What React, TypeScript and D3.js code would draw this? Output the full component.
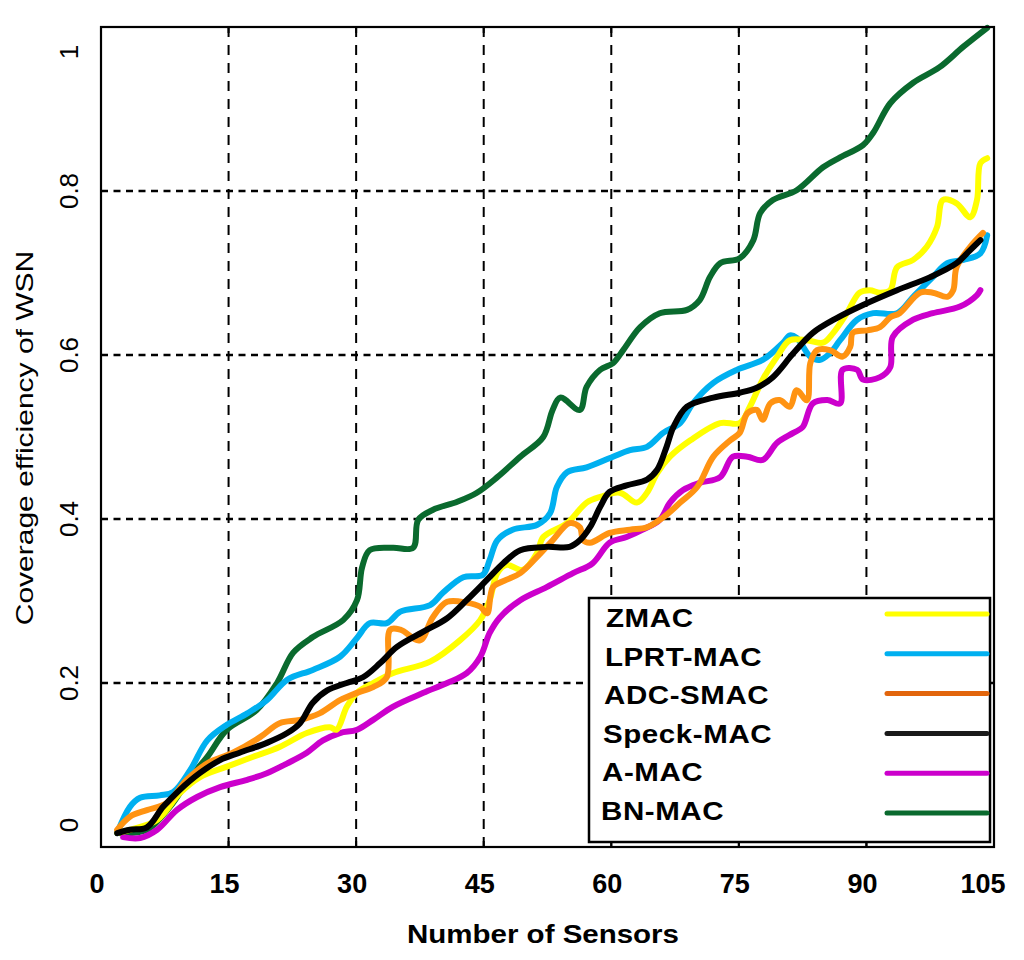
import React, { useEffect, useRef } from 'react';
import * as d3 from 'd3';

type Pt = [number, number];

const seriesNames = ['ZMAC', 'LPRT-MAC', 'ADC-SMAC', 'Speck-MAC', 'A-MAC', 'BN-MAC'];
const lineColors = ['#FFFF00', '#00B0F0', '#FF9312', '#000000', '#CC00CC', '#0A6A2E'];
const legendColors = ['#FFFF00', '#00B0F0', '#E2650C', '#1A1A1A', '#CC00CC', '#0A6A2E'];
const xTicks = [0, 15, 30, 45, 60, 75, 90, 105];
const yTicks = [0, 0.2, 0.4, 0.6, 0.8, 1];

const zmac: Pt[] = [
  [1.9, 0.017], [3.4, 0.021], [6.6, 0.033], [9.3, 0.066], [11.6, 0.085], [14.8, 0.098],
  [17.9, 0.11], [21.0, 0.122], [24.2, 0.139], [26.9, 0.146], [27.7, 0.143], [28.9, 0.171],
  [30.1, 0.188], [32.0, 0.2], [34.3, 0.212], [38.7, 0.226], [42.2, 0.252], [44.6, 0.277],
  [45.7, 0.301], [46.6, 0.334], [47.7, 0.344], [49.6, 0.338], [51.3, 0.359], [52.0, 0.378],
  [54.8, 0.395], [57.1, 0.42], [58.7, 0.427], [61.0, 0.432], [63.0, 0.42], [64.2, 0.432],
  [65.4, 0.456], [66.9, 0.476], [69.3, 0.496], [72.8, 0.517], [75.1, 0.517], [76.3, 0.537],
  [77.8, 0.57], [79.5, 0.598], [81.0, 0.618], [83.0, 0.618], [84.9, 0.615], [86.1, 0.627],
  [87.7, 0.651], [89.2, 0.676], [90.4, 0.679], [91.6, 0.676], [92.8, 0.679], [93.6, 0.707],
  [95.5, 0.716], [97.1, 0.732], [98.3, 0.756], [99.0, 0.789], [100.6, 0.785], [102.2, 0.768],
  [103.0, 0.789], [103.4, 0.834], [104.2, 0.84],
];

const lprt: Pt[] = [
  [1.9, 0.017], [3.4, 0.049], [4.6, 0.06], [6.9, 0.063], [8.5, 0.067], [10.5, 0.094],
  [12.5, 0.13], [14.8, 0.149], [17.2, 0.163], [19.5, 0.179], [21.9, 0.204], [24.9, 0.216],
  [28.1, 0.232], [30.1, 0.255], [31.6, 0.273], [33.6, 0.273], [35.2, 0.287], [38.7, 0.295],
  [40.2, 0.31], [42.6, 0.329], [44.9, 0.332], [45.7, 0.35], [46.6, 0.374], [48.4, 0.387],
  [51.3, 0.393], [52.8, 0.407], [53.6, 0.439], [54.8, 0.457], [57.1, 0.463], [60.2, 0.476],
  [62.2, 0.484], [64.2, 0.488], [66.1, 0.505], [68.1, 0.517], [69.6, 0.541], [72.0, 0.566],
  [74.8, 0.582], [77.8, 0.594], [80.2, 0.615], [81.0, 0.624], [81.8, 0.621], [83.4, 0.598],
  [84.5, 0.594], [85.7, 0.602], [86.9, 0.618], [88.9, 0.643], [90.8, 0.651], [93.6, 0.651],
  [95.5, 0.671], [97.8, 0.695], [99.5, 0.712], [101.4, 0.716], [103.4, 0.724], [104.2, 0.746],
];

const adc: Pt[] = [
  [1.9, 0.021], [3.4, 0.037], [5.4, 0.045], [7.8, 0.054], [10.1, 0.082], [12.5, 0.102],
  [15.5, 0.115], [18.7, 0.134], [21.0, 0.151], [23.4, 0.155], [25.7, 0.163], [28.1, 0.179],
  [30.1, 0.188], [32.0, 0.195], [33.6, 0.207], [34.0, 0.265], [35.2, 0.265], [37.5, 0.252],
  [39.0, 0.28], [40.7, 0.299], [43.0, 0.298], [44.6, 0.293], [45.4, 0.285], [46.1, 0.317],
  [47.7, 0.326], [49.3, 0.334], [51.3, 0.354], [53.1, 0.374], [55.1, 0.395], [56.3, 0.39],
  [56.7, 0.374], [57.5, 0.371], [59.8, 0.383], [62.2, 0.387], [64.2, 0.39], [66.1, 0.402],
  [68.1, 0.42], [70.1, 0.439], [72.0, 0.476], [74.0, 0.496], [75.1, 0.505], [76.0, 0.529],
  [77.1, 0.533], [77.8, 0.521], [78.7, 0.541], [79.8, 0.545], [81.0, 0.537], [81.8, 0.557],
  [83.0, 0.545], [83.4, 0.59], [84.2, 0.606], [85.7, 0.606], [87.2, 0.598], [88.1, 0.61],
  [88.4, 0.627], [90.1, 0.63], [91.6, 0.634], [92.8, 0.646], [93.9, 0.651], [96.3, 0.676],
  [97.8, 0.676], [99.5, 0.671], [100.2, 0.679], [100.6, 0.707], [102.2, 0.732], [103.7, 0.749],
];

const speck: Pt[] = [
  [1.9, 0.017], [3.4, 0.021], [5.4, 0.024], [7.3, 0.049], [9.3, 0.07], [11.6, 0.09],
  [14.0, 0.106], [16.3, 0.115], [19.5, 0.127], [21.9, 0.139], [23.4, 0.151], [24.9, 0.176],
  [26.6, 0.191], [28.9, 0.2], [30.8, 0.207], [32.8, 0.224], [34.8, 0.244], [37.8, 0.262],
  [40.7, 0.279], [43.0, 0.301], [45.4, 0.326], [47.3, 0.346], [49.3, 0.362], [52.4, 0.366],
  [55.1, 0.366], [56.3, 0.374], [57.5, 0.39], [58.7, 0.415], [59.8, 0.433], [61.8, 0.441],
  [64.2, 0.448], [65.4, 0.46], [66.5, 0.488], [67.3, 0.512], [68.9, 0.537], [72.0, 0.548],
  [75.1, 0.554], [77.1, 0.56], [79.0, 0.573], [81.4, 0.602], [83.7, 0.627], [86.5, 0.645],
  [89.6, 0.661], [93.6, 0.679], [97.5, 0.695], [100.6, 0.712], [102.2, 0.728], [103.4, 0.74],
];

const amac: Pt[] = [
  [2.6, 0.012], [4.6, 0.011], [6.6, 0.021], [8.9, 0.045], [11.3, 0.061], [14.0, 0.073],
  [17.2, 0.082], [19.5, 0.09], [21.9, 0.102], [24.2, 0.115], [26.1, 0.13], [28.1, 0.139],
  [30.1, 0.143], [32.0, 0.155], [34.3, 0.171], [37.9, 0.188], [40.7, 0.2], [43.0, 0.212],
  [44.6, 0.232], [45.7, 0.261], [46.9, 0.28], [49.3, 0.301], [52.4, 0.317], [55.5, 0.334],
  [57.8, 0.346], [59.8, 0.371], [61.8, 0.378], [63.7, 0.387], [65.7, 0.399], [66.9, 0.42],
  [68.4, 0.435], [70.4, 0.444], [72.8, 0.451], [74.3, 0.476], [76.0, 0.476], [77.8, 0.472],
  [79.5, 0.493], [81.4, 0.505], [82.5, 0.512], [83.7, 0.541], [85.4, 0.545], [86.9, 0.541],
  [87.2, 0.582], [88.9, 0.582], [89.6, 0.57], [91.6, 0.573], [92.8, 0.585], [93.1, 0.622],
  [95.5, 0.643], [97.8, 0.651], [101.0, 0.659], [103.0, 0.673], [103.4, 0.679],
];

const bnmac: Pt[] = [
  [2.0, 0.017], [5.4, 0.021], [8.1, 0.049], [10.5, 0.085], [12.5, 0.11], [14.8, 0.143],
  [18.3, 0.167], [20.7, 0.2], [22.6, 0.237], [24.9, 0.256], [28.5, 0.277], [30.1, 0.301],
  [30.7, 0.341], [31.6, 0.362], [34.3, 0.365], [36.7, 0.365], [37.3, 0.399], [39.0, 0.411],
  [41.9, 0.421], [44.2, 0.432], [46.6, 0.451], [49.3, 0.476], [52.0, 0.5], [53.1, 0.533],
  [54.0, 0.548], [56.3, 0.533], [57.1, 0.561], [58.7, 0.582], [60.2, 0.59], [61.4, 0.606],
  [63.4, 0.634], [65.7, 0.651], [68.9, 0.655], [70.4, 0.667], [71.6, 0.695], [72.8, 0.712],
  [75.1, 0.718], [76.7, 0.74], [77.5, 0.773], [79.0, 0.789], [81.8, 0.801], [84.9, 0.829],
  [86.9, 0.841], [89.6, 0.856], [90.8, 0.871], [92.8, 0.907], [95.5, 0.932], [98.6, 0.951],
  [101.4, 0.976], [104.2, 0.999],
];

const seriesData: Pt[][] = [zmac, lprt, adc, speck, amac, bnmac];
const drawOrder = [5, 4, 1, 0, 2, 3];

const FONT = '"Liberation Sans", Arial, Helvetica, sans-serif';

const App: React.FC = () => {
  const svgRef = useRef<SVGSVGElement | null>(null);

  useEffect(() => {
    const W = 1024;
    const H = 960;
    const margin = { top: 27, right: 30, bottom: 113, left: 101 };

    const svg = d3.select(svgRef.current);
    svg.selectAll('*').remove();
    svg.append('rect').attr('width', W).attr('height', H).attr('fill', 'white');

    const x = d3.scaleLinear().domain([0, 105]).range([margin.left, W - margin.right]);
    const y = d3.scaleLinear().domain([0, 1]).range([H - margin.bottom, margin.top]);

    // dashed grid
    svg.append('g')
      .selectAll('line')
      .data(xTicks.slice(1, -1))
      .enter()
      .append('line')
      .attr('x1', d => x(d)).attr('x2', d => x(d))
      .attr('y1', y(1)).attr('y2', y(0))
      .attr('stroke', '#000')
      .attr('stroke-width', 2)
      .attr('stroke-dasharray', '10,8');

    svg.append('g')
      .selectAll('line')
      .data(yTicks.slice(1, -1))
      .enter()
      .append('line')
      .attr('x1', x(0)).attr('x2', x(105))
      .attr('y1', d => y(d)).attr('y2', d => y(d))
      .attr('stroke', '#000')
      .attr('stroke-width', 2.4)
      .attr('stroke-dasharray', '7,5.5');

    // small inner ticks on the frame
    const tk = svg.append('g').attr('stroke', '#000').attr('stroke-width', 2);
    xTicks.slice(1, -1).forEach(v => {
      tk.append('line').attr('x1', x(v)).attr('x2', x(v)).attr('y1', y(1)).attr('y2', y(1) + 6);
      tk.append('line').attr('x1', x(v)).attr('x2', x(v)).attr('y1', y(0)).attr('y2', y(0) - 6);
    });
    yTicks.slice(1, -1).forEach(v => {
      tk.append('line').attr('x1', x(0)).attr('x2', x(0) + 6).attr('y1', y(v)).attr('y2', y(v));
      tk.append('line').attr('x1', x(105)).attr('x2', x(105) - 6).attr('y1', y(v)).attr('y2', y(v));
    });

    // series
    const line = d3.line<Pt>()
      .x(d => x(d[0]))
      .y(d => y(d[1]))
      .curve(d3.curveCatmullRom.alpha(0.5));

    drawOrder.forEach(i => {
      svg.append('path')
        .datum(seriesData[i])
        .attr('d', line)
        .attr('fill', 'none')
        .attr('stroke', lineColors[i])
        .attr('stroke-width', 6)
        .attr('stroke-linejoin', 'round')
        .attr('stroke-linecap', 'round');
    });

    // frame
    svg.append('rect')
      .attr('x', x(0)).attr('y', y(1))
      .attr('width', x(105) - x(0)).attr('height', y(0) - y(1))
      .attr('fill', 'none')
      .attr('stroke', '#000')
      .attr('stroke-width', 2.2);

    // x tick labels
    svg.append('g')
      .selectAll('text')
      .data(xTicks)
      .enter()
      .append('text')
      .attr('x', d => Math.min(x(d) - 4, 983))
      .attr('y', 893)
      .attr('text-anchor', 'middle')
      .style('font-family', FONT)
      .style('font-weight', 'bold')
      .style('font-size', '27px')
      .text(d => String(d));

    // y tick labels (rotated)
    svg.append('g')
      .selectAll('text')
      .data(yTicks)
      .enter()
      .append('text')
      .attr('transform', d => `translate(78,${Math.max(52, Math.min(825, y(d)))}) rotate(-90)`)
      .attr('text-anchor', 'middle')
      .style('font-family', FONT)
      .style('font-size', '26px')
      .text(d => String(d));

    // axis titles
    svg.append('text')
      .attr('transform', `translate(543,943) scale(1.18,1)`)
      .attr('text-anchor', 'middle')
      .style('font-family', FONT)
      .style('font-weight', 'bold')
      .style('font-size', '25px')
      .text('Number of Sensors');

    svg.append('text')
      .attr('transform', `translate(33,438) rotate(-90) scale(1.25,1)`)
      .attr('text-anchor', 'middle')
      .style('font-family', FONT)
      .style('font-size', '24px')
      .text('Coverage efficiency of WSN');

    // legend
    const lg = svg.append('g');
    lg.append('rect')
      .attr('x', 589).attr('y', 598)
      .attr('width', 401).attr('height', 244)
      .attr('fill', 'white')
      .attr('stroke', '#000')
      .attr('stroke-width', 2.5);

    seriesNames.forEach((name, i) => {
      lg.append('text')
        .attr('transform', `translate(${606 - i},${627 + i * 38.6}) scale(1.18,1)`)
        .style('font-family', FONT)
        .style('font-weight', 'bold')
        .style('font-size', '25px')
        .style('letter-spacing', '0.5px')
        .text(name);
      lg.append('line')
        .attr('x1', 887).attr('x2', 987)
        .attr('y1', 614 + i * 39.8).attr('y2', 614 + i * 39.8)
        .attr('stroke', legendColors[i])
        .attr('stroke-width', 5)
        .attr('stroke-linecap', 'round');
    });
  }, []);

  return (
    <svg
      ref={svgRef}
      width={1024}
      height={960}
      style={{ position: 'absolute', left: 0, top: 0, display: 'block' }}
    />
  );
};

export default App;
